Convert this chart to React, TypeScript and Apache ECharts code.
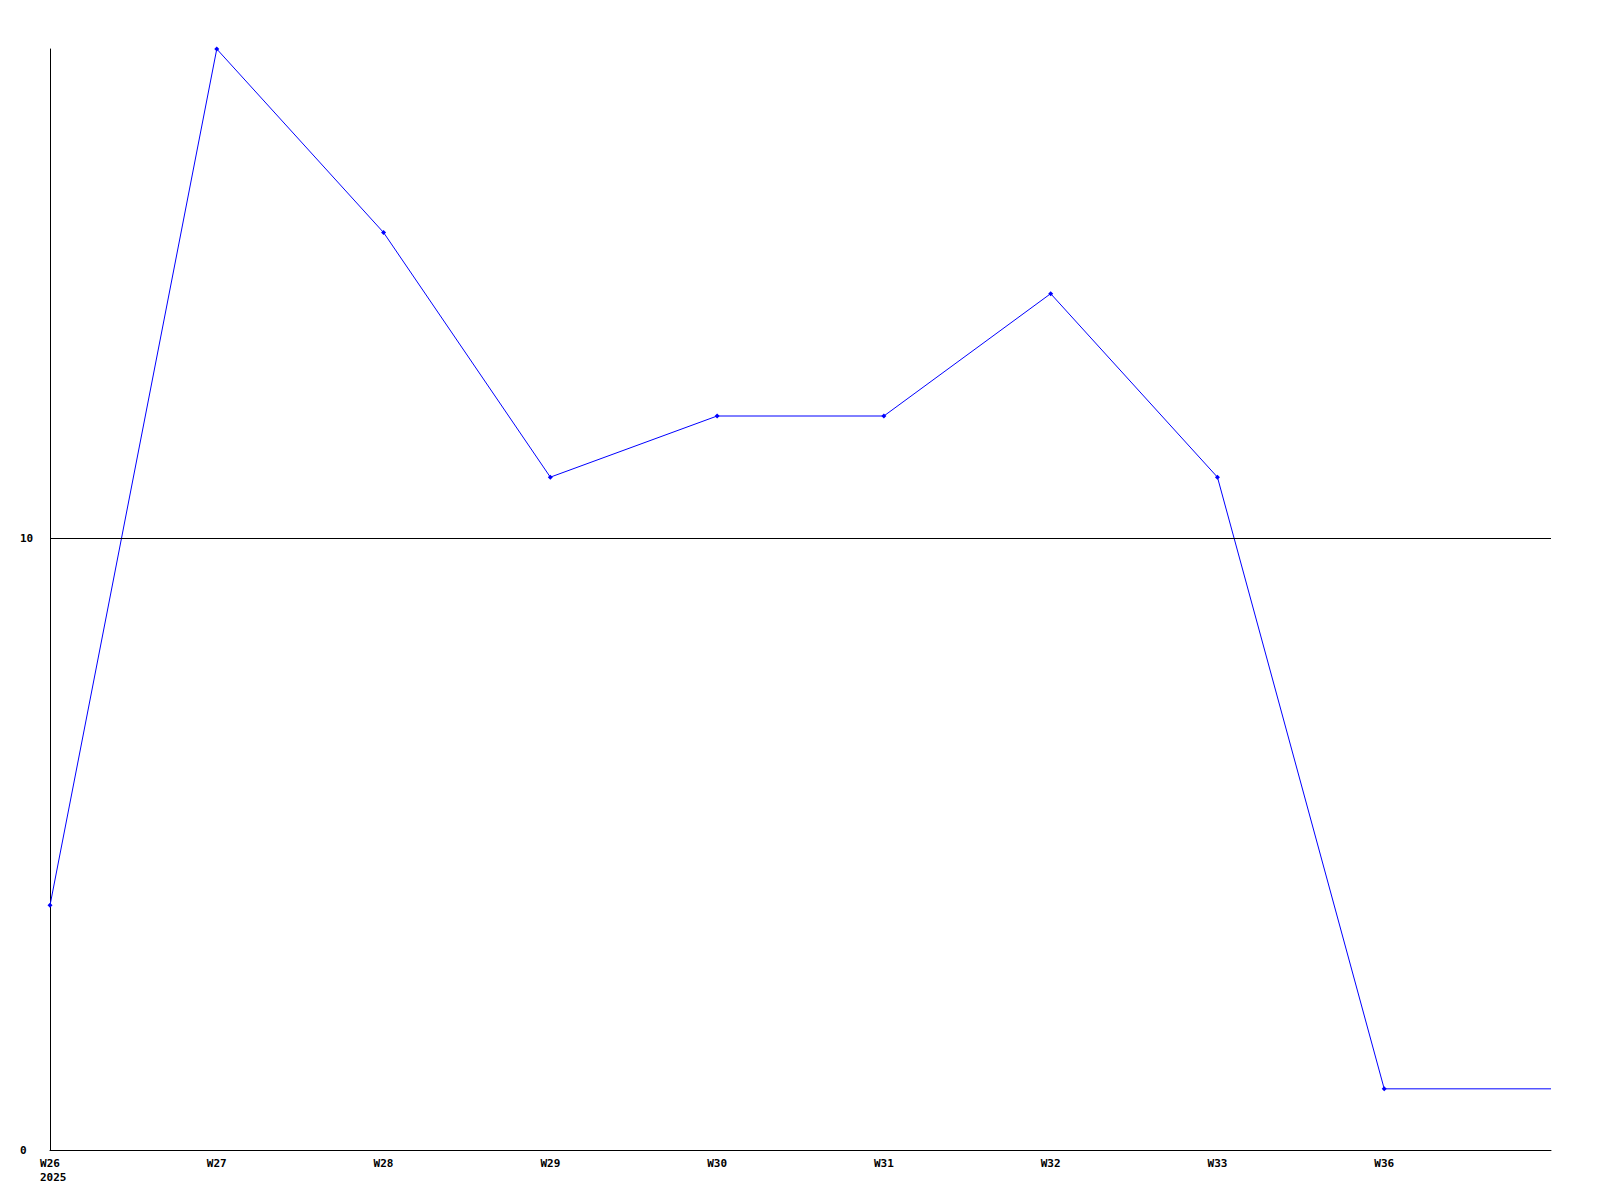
import React, { useEffect, useRef } from "react";
import * as echarts from "echarts";

const weeks = ["W26", "W27", "W28", "W29", "W30", "W31", "W32", "W33", "W36", ""];
const values = [4, 18, 15, 11, 12, 12, 14, 11, 1, 1];
const yearLabel = "2025";
const refLine = 10;

const FONT = "'DejaVu Sans Mono', monospace";

export default function App() {
  const ref = useRef<HTMLDivElement>(null);
  useEffect(() => {
    if (!ref.current) return;
    const chart = echarts.init(ref.current, undefined, { renderer: "svg" });
    const data = values.map((v, i) =>
      i === values.length - 1 ? { value: v, symbol: "none" } : { value: v }
    );
    chart.setOption({
      animation: false,
      backgroundColor: "#ffffff",
      grid: { left: 50, right: 49, top: 49, bottom: 50 },
      xAxis: {
        type: "category",
        data: weeks,
        boundaryGap: false,
        axisLine: { show: true, lineStyle: { color: "#000", width: 1 } },
        axisTick: { show: false },
        splitLine: { show: false },
        axisLabel: {
          interval: 0,
          margin: 8,
          color: "#000",
          fontFamily: FONT,
          fontWeight: "bold",
          fontSize: 11,
        },
      },
      yAxis: {
        type: "value",
        min: 0,
        max: 18,
        interval: 10,
        axisLine: { show: true, lineStyle: { color: "#000", width: 1 } },
        axisTick: { show: false },
        splitLine: { show: false },
        axisLabel: {
          showMaxLabel: false,
          align: "left",
          margin: 30,
          color: "#000",
          fontFamily: FONT,
          fontWeight: "bold",
          fontSize: 11,
        },
      },
      graphic: [
        {
          type: "text",
          x: 40,
          y: 1177,
          style: {
            text: yearLabel,
            fill: "#000",
            font: `bold 11px ${FONT}`,
            textAlign: "left",
            textVerticalAlign: "middle",
          },
        },
      ],
      series: [
        {
          type: "line",
          data,
          symbol: "diamond",
          symbolSize: 5,
          lineStyle: { color: "#0000ff", width: 1 },
          itemStyle: { color: "#0000ff" },
          markLine: {
            silent: true,
            symbol: "none",
            label: { show: false },
            lineStyle: { color: "#000", width: 1, type: "solid" },
            data: [{ yAxis: refLine }],
          },
          z: 3,
        },
      ],
    });
    return () => chart.dispose();
  }, []);
  return (
    <div
      ref={ref}
      style={{ position: "absolute", left: 0, top: 0, width: 1600, height: 1200 }}
    />
  );
}
